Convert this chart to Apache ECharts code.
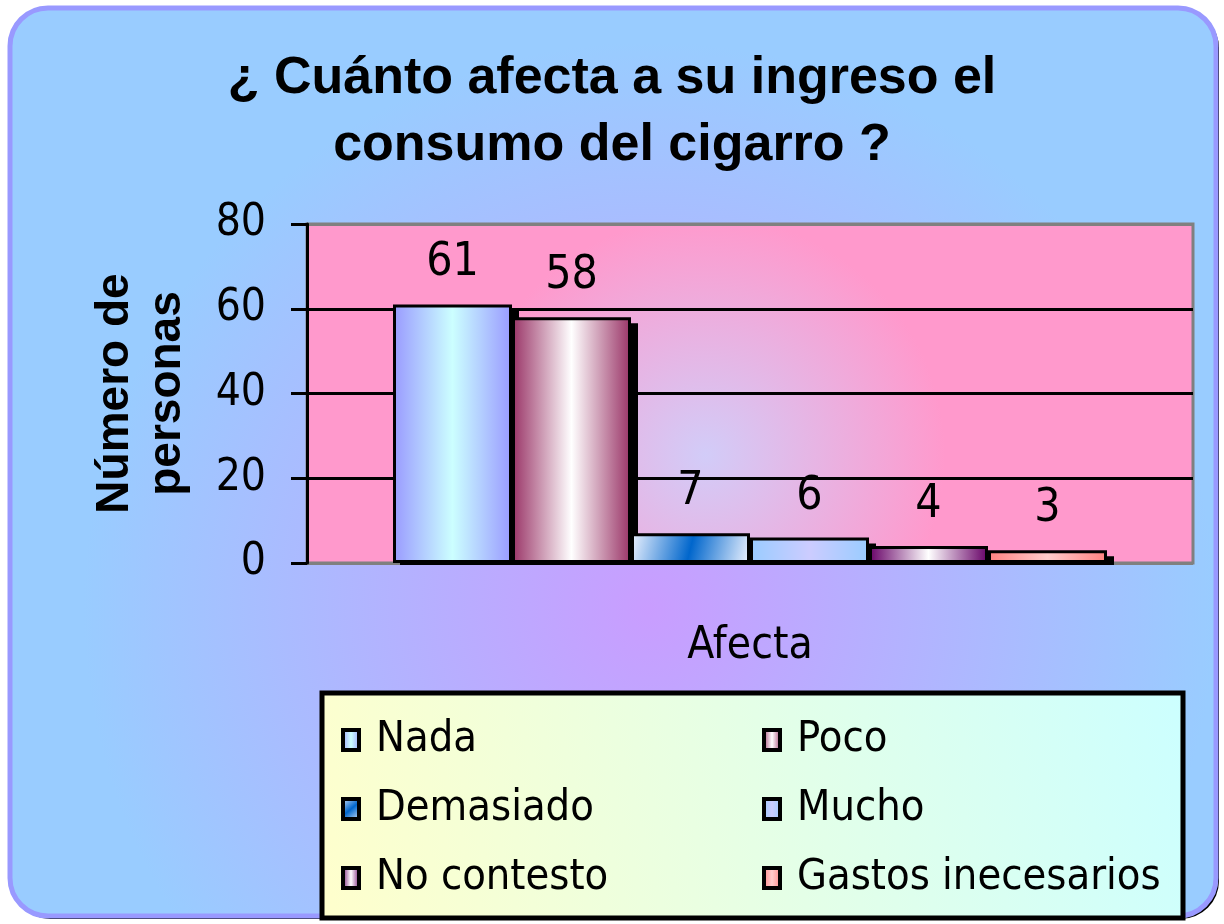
<!DOCTYPE html>
<html>
<head>
<meta charset="utf-8">
<script src="https://cdn.jsdelivr.net/npm/echarts@6/dist/echarts.min.js"></script>
<style>html,body{margin:0;padding:0;background:#fff;}#c{width:1224px;height:924px;}</style>
</head>
<body>
<div id="c"></div>
<script>
const titleText = '¿ Cuánto afecta a su ingreso el\nconsumo del cigarro ?';
const categories = ['Afecta'];
const seriesNames = ['Nada', 'Poco', 'Demasiado', 'Mucho', 'No contesto', 'Gastos inecesarios'];
const seriesValues = [61, 58, 7, 6, 4, 3];
const yTicks = [0, 20, 40, 60, 80];
const yName = 'Número de\npersonas';

const BW = 119;
const narrow = "'Liberation Sans Narrow','DejaVu Sans Condensed',sans-serif";
const hgrad = (edge, mid) => ({type:'linear',x:0,y:0,x2:1,y2:0,colorStops:[{offset:0,color:edge},{offset:0.5,color:mid},{offset:1,color:edge}]});
const fills = [
  hgrad('#9999ff', '#ccffff'),
  hgrad('#993366', '#ffffff'),
  {type:'linear',x:0,y:0,x2:1,y2:1,colorStops:[{offset:0,color:'#f0f4ff'},{offset:0.5,color:'#0066cc'},{offset:1,color:'#f0f4ff'}]},
  hgrad('#99ccff', '#ccccff'),
  hgrad('#660066', '#ffffff'),
  hgrad('#ff8080', '#ffcccc')
];

const series = seriesNames.map((n, i) => ({
  name: n,
  type: 'bar',
  z: 3,
  data: [seriesValues[i]],
  barWidth: BW,
  barGap: '0%',
  itemStyle: {color: fills[i], borderColor: '#000', borderWidth: 3},
  label: {show: true, position: 'top', distance: 18, color: '#000', fontSize: 46, fontFamily: narrow}
}));

// black 3D-style shadow behind each bar, positioned through the axis scales
series.push({
  name: 'shadow',
  type: 'custom',
  z: 2,
  silent: true,
  data: seriesValues.map((v, i) => [0, v, i]),
  encode: {x: 0, y: 1},
  renderItem: (params, api) => {
    const v = api.value(1), i = api.value(2);
    const base = api.coord([0, 0]);
    const top = api.coord([0, v]);
    const x = base[0] + (i - seriesValues.length / 2) * BW + 7;
    const y = top[1] + 6;
    return {type: 'rect', shape: {x: x, y: y, width: BW, height: base[1] - y + 2}, style: {fill: '#000'}};
  }
});

const legendCommon = {
  orient: 'vertical', top: 713, itemGap: 25, itemWidth: 16, itemHeight: 20, icon: 'rect',
  itemStyle: {borderColor: '#000', borderWidth: 4},
  textStyle: {fontSize: 43, fontFamily: narrow, color: '#000', lineHeight: 44, padding: [0,0,0,12]}
};

const chart = echarts.init(document.getElementById('c'), null, {renderer: 'canvas'});
chart.setOption({
  animation: false,
  backgroundColor: '#ffffff',
  graphic: [
    {type:'rect', z: -11, silent: true, shape:{x:12,y:10,width:1207,height:909,r:38}, style:{fill:'#000'}},
    {type:'rect', z: -10, silent: true,
     shape:{x:10,y:8,width:1206,height:908,r:38},
     style:{fill:{type:'radial',x:0.53,y:0.66,r:0.62,colorStops:[{offset:0,color:'#c99dff'},{offset:1,color:'#99ccff'}]},
            stroke:'#9999ff', lineWidth:5}},
    {type:'rect', z: -5, silent: true,
     shape:{x:322,y:693,width:861,height:225},
     style:{fill:{type:'linear',x:0,y:1,x2:1,y2:0,colorStops:[{offset:0,color:'#ffffcc'},{offset:1,color:'#ccffff'}]},
            stroke:'#000', lineWidth:5}}
  ],
  title: {
    text: titleText, left: 'center', top: 40,
    textStyle: {fontSize: 52, fontWeight: 'bold', fontFamily: "'Liberation Sans',Arial,sans-serif", color: '#000', lineHeight: 67}
  },
  legend: [
    Object.assign({}, legendCommon, {left: 336, data: [seriesNames[0], seriesNames[2], seriesNames[4]]}),
    Object.assign({}, legendCommon, {left: 757, data: [seriesNames[1], seriesNames[3], seriesNames[5]]})
  ],
  grid: {
    left: 307, right: 31, top: 224, bottom: 361, show: true,
    backgroundColor: {type:'radial',x:0.45,y:0.68,r:0.7,colorStops:[{offset:0,color:'#d2ccf8'},{offset:1,color:'#ff99cc'}]},
    borderColor: '#808080', borderWidth: 3
  },
  xAxis: {
    type: 'category', data: categories,
    axisLine: {show: false}, axisTick: {show: false},
    axisLabel: {margin: 62, fontSize: 44, fontFamily: narrow, color: '#000'}
  },
  yAxis: {
    type: 'value', min: yTicks[0], max: yTicks[yTicks.length-1], interval: 20,
    name: yName, nameLocation: 'middle', nameGap: 114,
    nameTextStyle: {fontSize: 46, fontWeight: 'bold', fontFamily: "'Liberation Sans',Arial,sans-serif", color: '#000', lineHeight: 52},
    axisLine: {show: true, lineStyle: {color: '#000', width: 3}},
    axisTick: {show: true, length: 16, lineStyle: {color: '#000', width: 3}},
    axisLabel: {margin: 41, fontSize: 44, fontFamily: narrow, color: '#000'},
    splitLine: {show: true, lineStyle: {color: ['#808080','#000','#000','#000','#808080'], width: 3}}
  },
  series: series
});
</script>
</body>
</html>
